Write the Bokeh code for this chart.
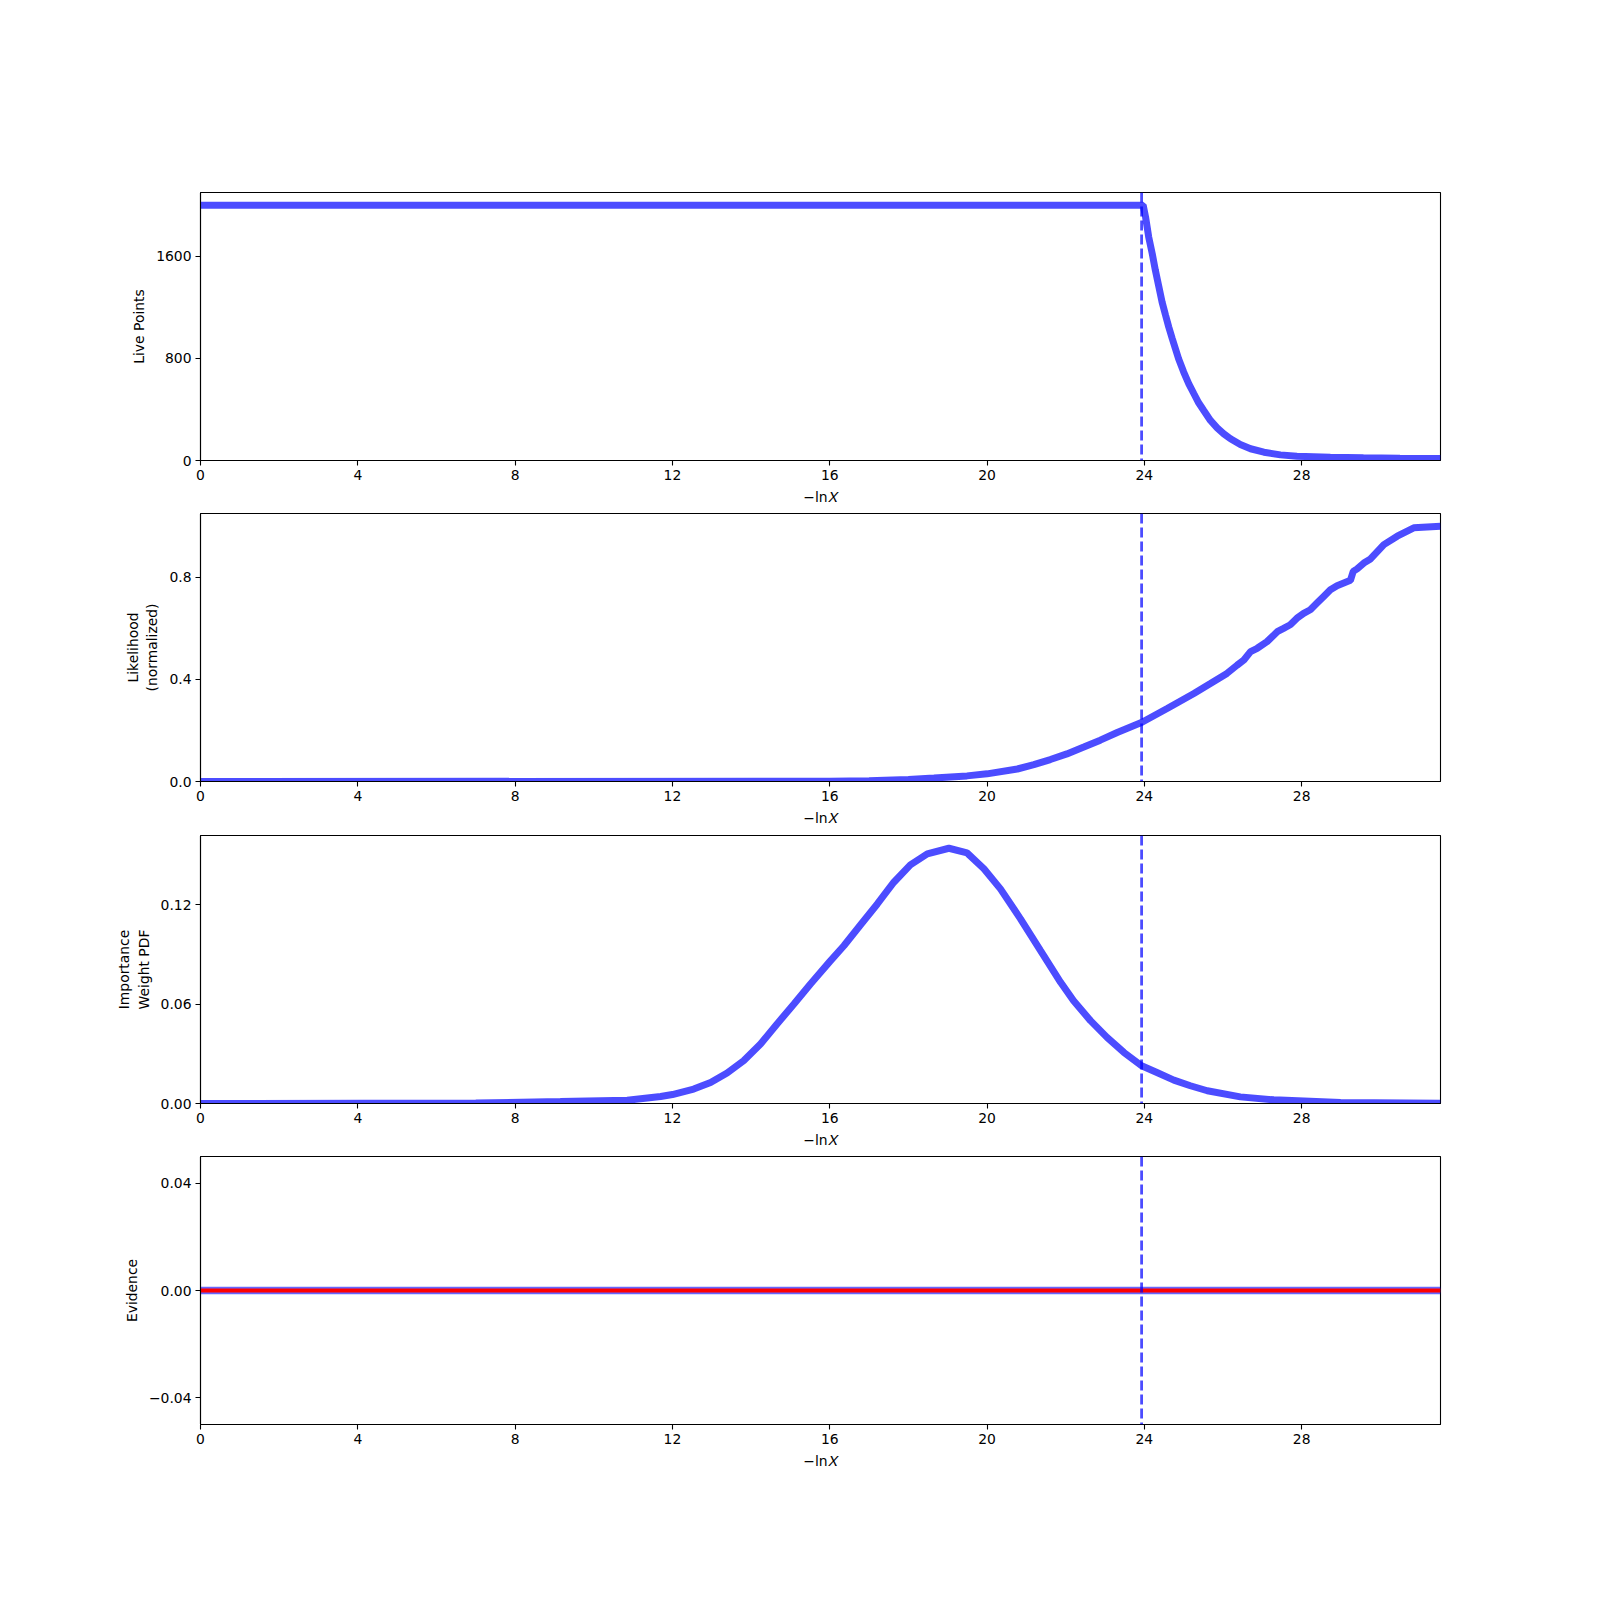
from bokeh.plotting import figure
from bokeh.layouts import column
from bokeh.models import Range1d, FixedTicker, Span
from bokeh.embed import file_html
from bokeh.resources import INLINE

# ---- data ----
X_MAX = 31.53
X_TICKS = [0, 4, 8, 12, 16, 20, 24, 28]
CUT_X = 23.93

live_x = [0, 23.93, 23.97, 24.03, 24.11, 24.20, 24.28, 24.37, 24.45, 24.54, 24.62,
          24.71, 24.79, 24.87, 25.0, 25.13, 25.26, 25.38, 25.51, 25.68, 25.85, 26.02,
          26.19, 26.44, 26.70, 27.04, 27.46, 27.88, 28.73, 29.57, 30.5, 31.53]
live_y = [2000, 2000, 2000, 1909, 1752, 1621, 1490, 1359, 1242, 1137, 1046,
          954, 876, 797, 693, 601, 523, 452, 392, 314, 256, 209,
          170, 125, 92, 65, 44, 34, 26, 21, 18, 16]

like_x = [0, 16, 17, 18, 18.65, 19.49, 20.0, 20.77, 21.19, 21.61, 22.03, 22.46, 22.88,
          23.31, 23.94, 24.58, 25.26, 25.68, 26.10, 26.36, 26.53, 26.70, 26.87, 27.12,
          27.38, 27.54, 27.71, 27.88, 28.05, 28.22, 28.39, 28.56, 28.73, 28.90, 29.24,
          29.31, 29.41, 29.58, 29.75, 30.09, 30.43, 30.85, 31.53]
like_y = [0, 0.001, 0.003, 0.008, 0.014, 0.022, 0.03, 0.049, 0.066, 0.086, 0.108, 0.135, 0.162,
          0.192, 0.232, 0.286, 0.345, 0.384, 0.4235, 0.456, 0.476, 0.509, 0.522, 0.548,
          0.587, 0.600, 0.614, 0.640, 0.659, 0.673, 0.699, 0.725, 0.751, 0.767, 0.788,
          0.823, 0.833, 0.856, 0.872, 0.928, 0.961, 0.994, 1.0]

pdf_x = [0, 7, 9.15, 10.85, 11.70, 12.0, 12.54, 12.97, 13.39, 13.81, 14.24, 14.66,
         15.09, 15.51, 16.0, 16.36, 16.78, 17.21, 17.63, 18.05, 18.48, 19.03, 19.49,
         19.92, 20.34, 20.85, 21.36, 21.87, 22.20, 22.63, 23.05, 23.48, 23.93, 24.32,
         24.75, 25.17, 25.6, 26.44, 27.29, 28.99, 31.53]
pdf_y = [0, 0.0003, 0.0012, 0.002, 0.0042, 0.0054, 0.0087, 0.0127, 0.0184, 0.0258,
         0.0359, 0.048, 0.060, 0.0721, 0.0856, 0.0952, 0.1077, 0.1204, 0.1335, 0.144,
         0.1506, 0.154, 0.1512, 0.1416, 0.1295, 0.1114, 0.0922, 0.0731, 0.062, 0.050,
         0.0399, 0.0308, 0.0228, 0.0187, 0.0141, 0.0107, 0.0077, 0.0040, 0.0022,
         0.0006, 0.0002]

evid_x = [0, 31.53]
evid_y = [0, 0]

Y_LABELS = ["Live Points", "Likelihood\n(normalized)", "Importance\nWeight PDF", "Evidence"]
Y_RANGES = [(0, 2100), (0, 1.05), (0, 0.1617), (-0.05, 0.05)]
Y_TICKS = [[0, 800, 1600], [0.0, 0.4, 0.8], [0.0, 0.06, 0.12], [-0.04, 0.0, 0.04]]
Y_TICK_LABELS = [["0", "800", "1600"], ["0.0", "0.4", "0.8"], ["0.00", "0.06", "0.12"],
                 ["\u22120.04", "0.00", "0.04"]]

TOPS = [192, 3, 4, 3]
FONT = "DejaVu Sans"
FS = "13.9px"
BLUE = "blue"


def make_fig(i):
    lo, hi = Y_RANGES[i]
    top = TOPS[i]
    p = figure(width=1600, height=top + 268 + 50,
               x_range=Range1d(0, X_MAX), y_range=Range1d(lo, hi),
               output_backend="svg", toolbar_location=None,
               min_border_left=200, min_border_right=160,
               min_border_top=top, min_border_bottom=50)
    p.xgrid.visible = False
    p.ygrid.visible = False
    p.outline_line_color = "black"
    p.outline_line_width = 1.1
    p.background_fill_color = "white"
    p.border_fill_color = "white"

    p.xaxis.ticker = FixedTicker(ticks=X_TICKS)
    p.yaxis.ticker = FixedTicker(ticks=Y_TICKS[i])
    p.yaxis.major_label_overrides = {t: s for t, s in zip(Y_TICKS[i], Y_TICK_LABELS[i])}
    p.xaxis.axis_label = "\u2212ln\U0001D44B"
    p.yaxis.axis_label = Y_LABELS[i]
    for ax in (p.xaxis[0], p.yaxis[0]):
        ax.major_tick_out = 5
        ax.major_tick_in = 0
        ax.minor_tick_out = 0
        ax.minor_tick_in = 0
        ax.major_tick_line_width = 1.1
        ax.axis_line_width = 1.1
        ax.major_label_standoff = 4
        ax.axis_label_standoff = 6
        ax.major_label_text_font = FONT
        ax.major_label_text_font_size = FS
        ax.major_label_text_color = "black"
        ax.axis_label_text_font = FONT
        ax.axis_label_text_font_size = FS
        ax.axis_label_text_font_style = "normal"
        ax.axis_label_text_color = "black"
    return p


figs = [make_fig(i) for i in range(4)]

figs[0].line(live_x, live_y, line_color=BLUE, line_alpha=0.7, line_width=7)
figs[1].line(like_x, like_y, line_color=BLUE, line_alpha=0.7, line_width=7)
figs[2].line(pdf_x, pdf_y, line_color=BLUE, line_alpha=0.7, line_width=7)
figs[3].line(evid_x, evid_y, line_color=BLUE, line_alpha=0.6, line_width=7.5)
figs[3].line(evid_x, evid_y, line_color="red", line_alpha=1.0, line_width=4.2)

for p in figs:
    p.add_layout(Span(location=CUT_X, dimension="height", line_color=BLUE,
                      line_alpha=0.7, line_dash="10 4", line_width=2.8))

layout = column(*figs, spacing=0)
open("out.html", "w").write(file_html(layout, INLINE))
